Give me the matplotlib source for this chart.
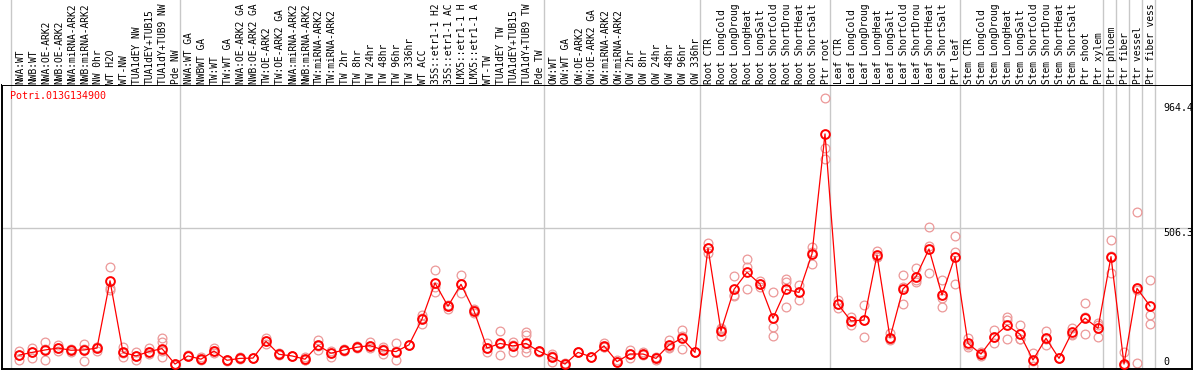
import matplotlib
matplotlib.use("Agg")
import matplotlib.pyplot as plt

labels = [
    "NWA:WT", "NWB:WT", "NWA:OE-ARK2", "NWB:OE-ARK2", "NWA:miRNA-ARK2", "NWB:miRNA-ARK2",
    "NW 0hr", "WT H2O", "WT-NW", "TUA1dEY NW", "TUA1dEY+TUB15", "TUA1dY+TUB9 NW", "Pde NW",
    "NWA:WT GA", "NWBWT GA", "TW:WT", "TW:WT GA", "NWA:OE-ARK2 GA", "NWB:OE-ARK2 GA",
    "TW:OE-ARK2", "TW:OE-ARK2 GA", "NWA:miRNA-ARK2", "NWB:miRNA-ARK2", "TW:miRNA-ARK2",
    "TW:miRNA-ARK2", "TW 2hr", "TW 8hr", "TW 24hr", "TW 48hr", "TW 96hr", "TW 336hr", "WT ACC",
    "35S::etr1-1 H2", "35S::etr1-1 AC", "LMX5::etr1-1 H", "LMX5::etr1-1 A", "WT-TW",
    "TUA1dEY TW", "TUA1dEY+TUB15", "TUA1dY+TUB9 TW", "Pde TW",
    "OW:WT", "OW:WT GA", "OW:OE-ARK2", "OW:OE-ARK2 GA", "OW:miRNA-ARK2", "OW:miRNA-ARK2",
    "OW 2hr", "OW 8hr", "OW 24hr", "OW 48hr", "OW 96hr", "OW 336hr",
    "Root CTR", "Root LongCold", "Root LongDroug", "Root LongHeat", "Root LongSalt",
    "Root ShortCold", "Root ShortDrou", "Root ShortHeat", "Root ShortSalt", "Ptr root",
    "Leaf CTR", "Leaf LongCold", "Leaf LongDroug", "Leaf LongHeat", "Leaf LongSalt",
    "Leaf ShortCold", "Leaf ShortDrou", "Leaf ShortHeat", "Leaf ShortSalt", "Ptr leaf",
    "Stem CTR", "Stem LongCold", "Stem LongDroug", "Stem LongHeat", "Stem LongSalt",
    "Stem ShortCold", "Stem ShortDrou", "Stem ShortHeat", "Stem ShortSalt", "Ptr shoot",
    "Ptr xylem", "Ptr phloem", "Ptr fiber", "Ptr vessel", "Ptr fiber vess",
]

means = [
    39, 49, 58, 65, 57, 58, 65, 313, 49, 36, 52, 63, 6,
    36, 24, 54, 20, 27, 28, 90, 42, 36, 24, 75, 46, 58, 68, 74, 58, 52, 77, 172,
    305, 219, 300, 202, 65, 82, 73, 82, 53,
    32, 6, 49, 33, 73, 15, 43, 43, 27, 76, 101, 49,
    433, 128, 281, 344, 301, 175, 281, 270, 412, 854,
    226, 165, 168, 408, 103, 283, 328, 430, 260, 402,
    82, 43, 107, 149, 116, 21, 101, 27, 123, 175,
    138, 402, 6, 285, 220,
]

replicates = [
    [54, 21, 40], [64, 27, 52], [88, 20, 60], [75, 55, 66], [58, 50, 60], [80, 16, 60],
    [69, 55, 68], [364, 285, 279], [70, 31, 48], [52, 20, 36], [64, 42, 52],
    [103, 88, 54, 33], [6, 4, 8],
    [38, 34, 36], [33, 21, 24], [64, 48, 54], [22, 18, 20], [33, 25, 27], [28, 28, 28],
    [101, 80, 90], [46, 42, 40], [36, 36, 36], [33, 21, 22], [95, 58, 72], [54, 33, 48],
    [60, 53, 58], [74, 64, 68], [88, 64, 72], [68, 42, 60], [82, 21, 53], [77, 77, 77],
    [187, 154, 175], [351, 273, 290], [224, 208, 220], [333, 267, 300], [209, 193, 205],
    [82, 49, 64], [128, 38, 80], [87, 52, 78], [125, 113, 64, 49], [56, 50, 53],
    [43, 15, 36], [0, 6, 10], [49, 49, 49], [33, 33, 33], [82, 70, 70], [21, 12, 14],
    [58, 27, 44], [50, 38, 43], [33, 21, 27], [95, 64, 70], [131, 60, 110], [49, 49, 49],
    [451, 414, 435], [138, 109, 135], [331, 257, 260], [392, 363, 281], [313, 291, 300],
    [270, 141, 111], [318, 310, 217], [297, 242, 270], [438, 374, 420], [985, 801, 761],
    [242, 211, 226], [181, 150, 165], [224, 105, 170], [424, 399, 402], [119, 95, 98],
    [334, 227, 290], [359, 310, 315], [510, 340, 440], [316, 215, 250], [478, 420, 301],
    [101, 70, 76], [50, 37, 43], [131, 85, 105], [178, 98, 170], [150, 97, 100],
    [46, 0, 17], [128, 76, 100], [27, 27, 27], [138, 113, 118], [230, 116, 180],
    [158, 107, 150], [463, 340, 403], [49, 2, 0], [566, 9, 280], [316, 187, 153],
]

group_breaks = [0, 13, 41, 53, 63, 73, 84, 85, 86, 87, 88]
gene_id = "Potri.013G134900"
ytick_values = [0, 506.3, 964.4]
ytick_labels = ["0", "506.3", "964.4"]

W, H = 1194, 370
fig = plt.figure(figsize=(W / 100, H / 100), dpi=100)
mono = "DejaVu Sans Mono"
fs = 7.2
lfs = 6.95

x = list(range(1, len(means) + 1))
xmin = 1 - 17 / 13
xmax = xmin + 1190 / 13

ax = fig.add_axes([2 / W, 1 / H, 1190 / W, 284 / H])
ax.set_xlim(xmin, xmax)
ppu = 0.2714
ax.set_ylim(-(369 - 365.7) / ppu, (365.7 - 85) / ppu)
ax.set_xticks([])
ax.set_yticks([])
for s in ax.spines.values():
    s.set_color("black")
    s.set_linewidth(1.4)

for b in group_breaks:
    ax.axvline(b + 0.4, color="#c8c8c8", lw=1.0, zorder=0)
ax.axhline(506.3, color="#c8c8c8", lw=1.0, zorder=0)

rep_color = "#ec9898"
for xi, reps in zip(x, replicates):
    ax.plot([xi] * len(reps), reps, linestyle="none", marker="o", ms=6.3,
            mfc="none", mec=rep_color, mew=0.9, zorder=2, clip_on=False)
ax.plot(x, means, color="#ff0000", lw=0.9, zorder=3)
ax.plot(x, means, linestyle="none", marker="o", ms=6.3, mfc="none",
        mec="#ff0000", mew=1.4, zorder=4)

# label area
lax = fig.add_axes([2 / W, 285 / H, 1190 / W, 85 / H])
lax.set_xlim(xmin, xmax)
lax.set_ylim(85, 0)
lax.set_xticks([])
lax.set_yticks([])
for s in lax.spines.values():
    s.set_visible(False)
lax.spines["right"].set_visible(True)
lax.spines["right"].set_linewidth(1.4)
for b in group_breaks:
    lax.axvline(b + 0.4, color="#c8c8c8", lw=1.0, zorder=0)
for xi, lab in zip(x, labels):
    lax.text(xi + 0.1, 84, lab, rotation=90, ha="center", va="bottom",
             fontsize=lfs, family=mono, color="black", clip_on=False)

fig.text(10 / W, 1 - 99 / H, gene_id, color="#ff0000", fontsize=fs, family=mono,
         ha="left", va="baseline")
tick_px = {0: 365, 506.3: 236, 964.4: 111.5}
for v, t in zip(ytick_values, ytick_labels):
    fig.text(1163 / W, 1 - tick_px[v] / H, t, color="black", fontsize=fs, family=mono,
             ha="left", va="baseline")

fig.savefig("out.png", dpi=100)
